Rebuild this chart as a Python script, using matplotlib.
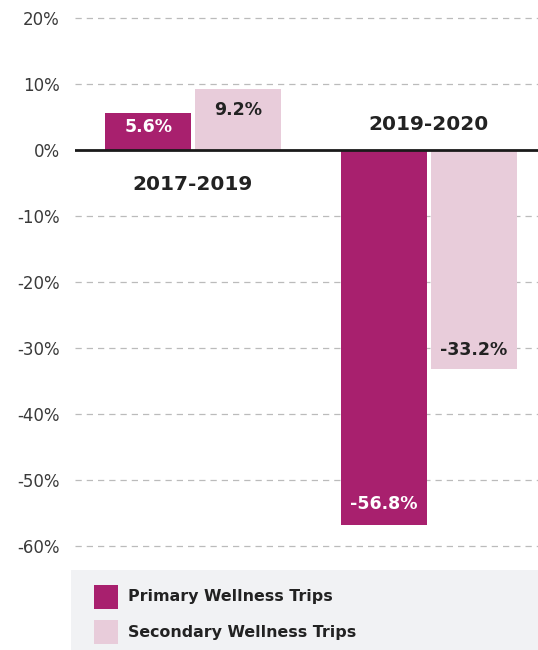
import matplotlib
matplotlib.use("Agg")
import matplotlib.pyplot as plt
from matplotlib.patches import Rectangle
import numpy as np

periods = ["2017-2019", "2019-2020"]
primary = [5.6, -56.8]
secondary = [9.2, -33.2]
series_names = ["Primary Wellness Trips", "Secondary Wellness Trips"]
yticks = [20, 10, 0, -10, -20, -30, -40, -50, -60]

c_primary = "#A8206E"
c_secondary = "#E8CCDA"
dark = "#222222"

plt.rcParams['font.family'] = ['DejaVu Sans']

W, H = 538, 650
fig = plt.figure(figsize=(W / 100, H / 100), dpi=100)
ax = fig.add_axes([75 / W, 1 - 555 / H, 463 / W, 545 / H])

x = np.arange(len(periods))
w = 0.362
off = 0.19
ax.bar(x - off, primary, width=w, color=c_primary, zorder=2)
ax.bar(x + off, secondary, width=w, color=c_secondary, zorder=2)

ax.set_xlim(-0.5, 1.462)
ax.set_ylim(-61.36, 21.2)
ax.set_yticks(yticks)
ax.set_yticklabels([f"{v}%" for v in yticks])
ax.tick_params(axis='y', length=0, pad=11, labelsize=12, labelcolor="#3a3a3a")
ax.set_xticks([])
for s in ax.spines.values():
    s.set_visible(False)

for v in yticks:
    if v != 0:
        ax.axhline(v, color="#BBBBBB", lw=0.9, ls=(0, (5, 4)), zorder=1)
ax.axhline(0, color="#1a1a1a", lw=2, zorder=3)

# value labels
def lab(xp, v, color, dy):
    ax.annotate(f"{v:.1f}%", (xp, v), xytext=(0, dy), textcoords="offset points",
                ha="center", va="center", fontsize=12.5, fontweight="bold", color=color, zorder=4)

lab(x[0] - off, primary[0], "white", -10)
lab(x[0] + off, secondary[0], dark, -15)
lab(x[1] - off, primary[1], "white", 15)
lab(x[1] + off, secondary[1], dark, 14)

# group labels
ax.annotate(periods[0], (x[0], 0), xytext=(0, -25), textcoords="offset points",
            ha="center", va="center", fontsize=14.5, fontweight="bold", color=dark)
ax.annotate(periods[1], (x[1], 0), xytext=(0, 18), textcoords="offset points",
            ha="center", va="center", fontsize=14.5, fontweight="bold", color=dark)

# legend panel
fig.patches.append(Rectangle((71 / W, 0), (W - 71) / W, 80 / H, transform=fig.transFigure,
                             facecolor="#F1F2F4", edgecolor="none", zorder=0))
for i, (name, col) in enumerate(zip(series_names, [c_primary, c_secondary])):
    ytop = 585 + i * 35
    fig.patches.append(Rectangle((94 / W, 1 - (ytop + 24) / H), 24 / W, 24 / H,
                                 transform=fig.transFigure, facecolor=col, edgecolor="none", zorder=1))
    fig.text(128 / W, 1 - (ytop + 12) / H, name, ha="left", va="center",
             fontsize=11.4, fontweight="bold", color=dark)

fig.savefig("out.png", dpi=100)
